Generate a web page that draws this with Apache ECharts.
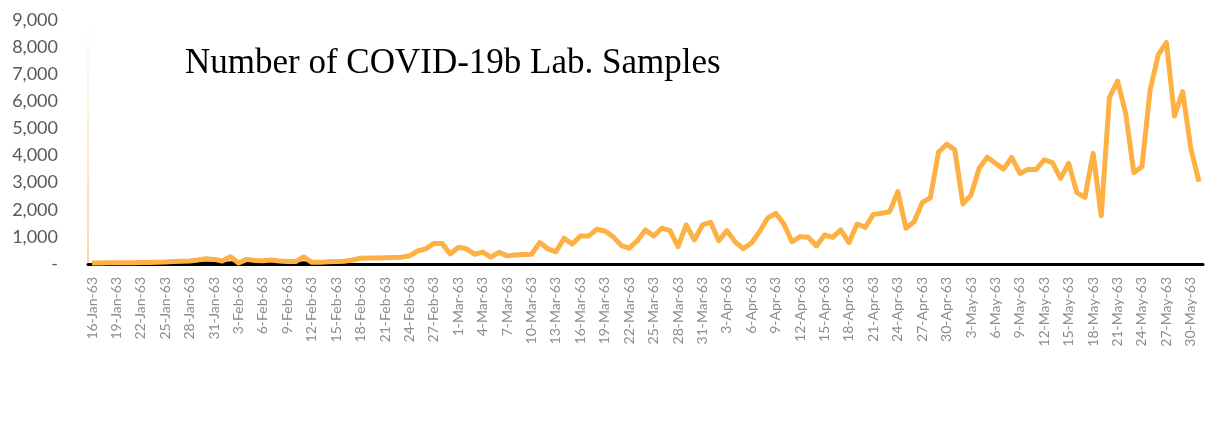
<!DOCTYPE html>
<html>
<head>
<meta charset="utf-8">
<script src="https://cdn.jsdelivr.net/npm/echarts@6/dist/echarts.min.js"></script>
<style>
  html, body { margin: 0; padding: 0; background: #fff; }
  #myChart { width: 1217px; height: 447px; }
</style>
</head>
<body>
<div id="myChart"></div>
<script>
// categories: daily 16-Jan-63 .. 31-May-63 (Thai year 2563 = 2020, leap Feb)
var monthNames = ["Jan", "Feb", "Mar", "Apr", "May"];
var monthStart = [16, 1, 1, 1, 1];
var monthEnd = [31, 29, 31, 30, 31];
var categories = [];
for (var m = 0; m < monthNames.length; m++) {
  for (var d = monthStart[m]; d <= monthEnd[m]; d++) {
    categories.push(d + "-" + monthNames[m] + "-63");
  }
}

// number of lab samples per day
var labSamples = [
  40, 40, 45, 45, 50, 50, 55, 55, 60, 70,
  90, 100, 110, 150, 190, 170, 110, 270, 40, 170,
  130, 120, 150, 110, 90, 90, 260, 60, 60, 85,
  95, 105, 150, 210, 220, 225, 230, 240, 250, 300,
  480, 560, 760, 760, 370, 615, 560, 360, 440, 250,
  430, 300, 330, 350, 360, 790, 560, 450, 950, 740,
  1030, 1030, 1280, 1220, 1010, 690, 580, 860, 1255, 1030,
  1320, 1230, 640, 1440, 885, 1440, 1540, 860, 1230, 820,
  565, 765, 1190, 1690, 1870, 1480, 820, 1010, 985, 665,
  1070, 985, 1255, 785, 1475, 1350, 1830, 1870, 1930, 2670,
  1320, 1560, 2260, 2450, 4120, 4420, 4210, 2215, 2550, 3530,
  3940, 3720, 3500, 3930, 3340, 3490, 3490, 3840, 3740, 3160,
  3710, 2630, 2460, 4080, 1780, 6140, 6750, 5560, 3370, 3590,
  6420, 7710, 8170, 5460, 6360, 4270, 3040
];

// small black series near zero, early part only
var positiveSamples = [
  0, 0, 0, 0, 0, 0, 0, 0, 0, 0,
  0, 5, 10, 20, 40, 35, 20, 50, 10, 30,
  20, 15, 20, 15, 10, 10, 45, 10, 5, 0
];

var yTickLabels = ["-", "1,000", "2,000", "3,000", "4,000", "5,000", "6,000", "7,000", "8,000", "9,000"];

var myChart = echarts.init(document.getElementById("myChart"));
myChart.setOption({
  animation: false,
  title: {
    text: "Number of COVID-19b Lab. Samples",
    left: 180,
    top: 41,
    textStyle: {
      fontFamily: "Liberation Serif",
      fontSize: 35,
      fontWeight: "normal",
      color: "#000"
    }
  },
  grid: {
    left: 88,
    right: 14,
    top: 20,
    bottom: 183
  },
  xAxis: {
    type: "category",
    data: categories,
    axisLine: {
      lineStyle: { color: "#000", width: 3 }
    },
    axisTick: { show: false },
    axisLabel: {
      interval: 2,
      rotate: 90,
      margin: 13,
      fontFamily: "Lato",
      fontSize: 14,
      color: "#8c8c8c"
    },
    splitLine: { show: false }
  },
  yAxis: {
    type: "value",
    min: 0,
    max: 9000,
    interval: 1000,
    axisLine: {
      show: true,
      lineStyle: {
        width: 2,
        color: new echarts.graphic.LinearGradient(0, 0, 0, 1, [
          { offset: 0, color: "#ffffff" },
          { offset: 1, color: "#fbd7a2" }
        ])
      }
    },
    axisTick: { show: false },
    splitLine: { show: false },
    axisLabel: {
      margin: 30,
      fontFamily: "Lato",
      fontSize: 18,
      color: "#595959",
      formatter: function (v) {
        return yTickLabels[Math.round(v / 1000)];
      }
    }
  },
  series: [
    {
      name: "positive",
      type: "line",
      data: positiveSamples,
      showSymbol: false,
      lineStyle: { color: "#000", width: 3 },
      z: 1
    },
    {
      name: "Lab samples",
      type: "line",
      data: labSamples,
      showSymbol: false,
      lineStyle: { color: "#fdb043", width: 5, join: "round" },
      z: 2
    }
  ]
});
</script>
</body>
</html>
